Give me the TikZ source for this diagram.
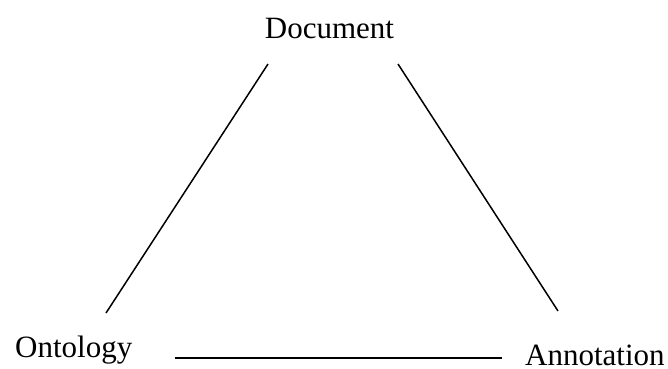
\documentclass[tikz,border=0pt]{standalone}
\usepackage{fontspec}
\setmainfont{Liberation Serif}
\usetikzlibrary{positioning}

\begin{document}
\begin{tikzpicture}[x=1pt,y=-1pt,
  term/.style={inner sep=0pt,font=\fontsize{31}{36}\selectfont},
  side/.style={line width=1.5pt,black},
]
  \useasboundingbox (0,0) rectangle (668,368);
  \node[term,anchor=base] (doc) at (329.5,38) {Document};
  \node[term,anchor=base west] (ont) at (15,357) {Ontology};
  \node[term,anchor=base west] (ann) at (525,365) {Annotation};

  % ends of the three sides
  \coordinate (docl) at (268,64);
  \coordinate (docr) at (398,64);
  \coordinate (ontt) at (106,313);
  \coordinate (ontr) at (175,358);
  \coordinate (annt) at (558,311);
  \coordinate (annl) at (502,358);

  \draw[side] (docl) -- (ontt);
  \draw[side] (docr) -- (annt);
  \draw[side] (ontr) -- (annl);
\end{tikzpicture}
\end{document}
